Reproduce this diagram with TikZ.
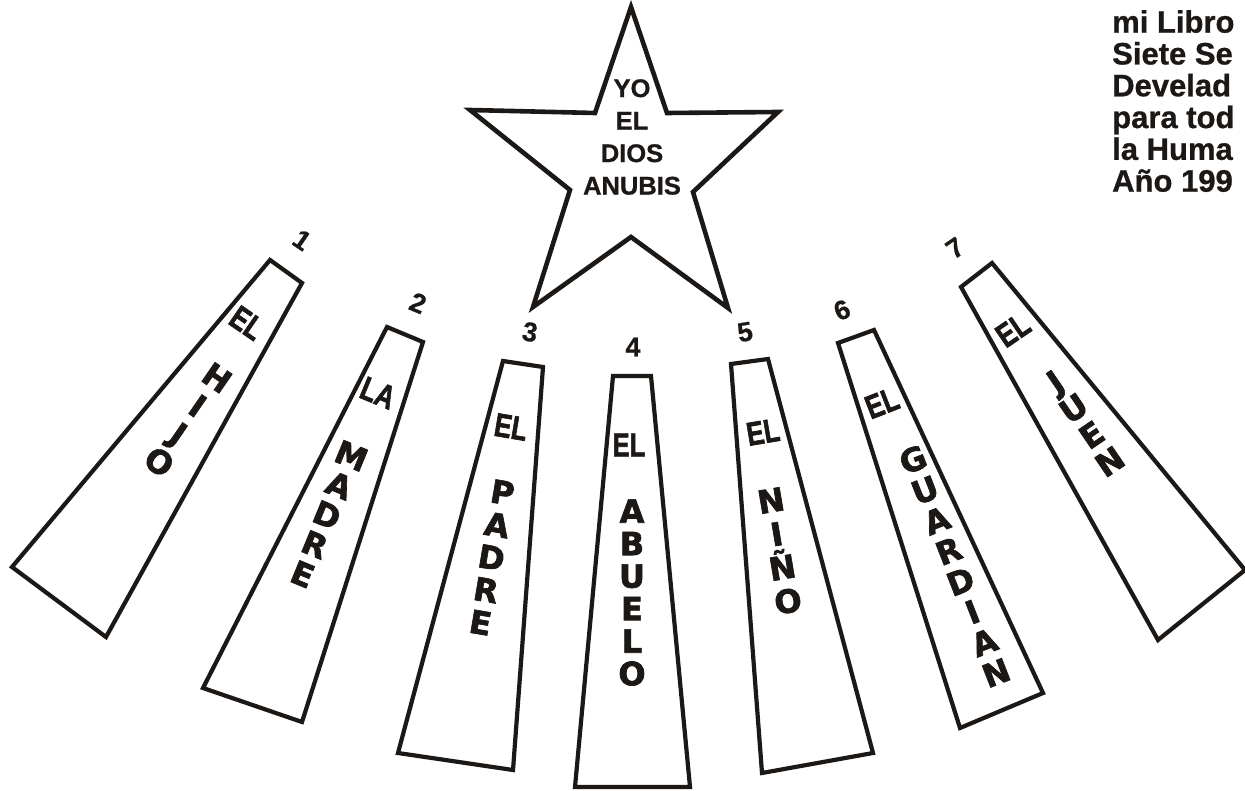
\documentclass[tikz,border=0pt]{standalone}
\usepackage{fontspec}
\setmainfont{Liberation Sans}[BoldFeatures={FakeBold=0.8}]
\newfontfamily\heavyfont{DejaVu Sans}[BoldFeatures={FakeBold=2}]
\newfontfamily\elfont{Liberation Sans}[BoldFeatures={FakeBold=2}]
\definecolor{ink}{RGB}{28,24,22}
\begin{document}
\begin{tikzpicture}[x=1pt,y=-1pt,
  box/.style={draw=ink, line width=4.2pt, line join=miter, fill=white},
  elabel/.style={text=ink, font=\elfont\bfseries\fontsize{33}{33}\selectfont, inner sep=0pt},
  word/.style={text=ink, font=\heavyfont\bfseries\fontsize{32}{#1}\selectfont, align=center, inner sep=0pt},
  word/.default=33,
  num/.style={text=ink, font=\bfseries\fontsize{27}{27}\selectfont, inner sep=0pt},
  startext/.style={text=ink, font=\bfseries\fontsize{25.5}{32.5}\selectfont, align=center, inner sep=0pt},
  book/.style={text=ink, font=\bfseries\fontsize{31}{31.8}\selectfont, align=left, inner sep=0pt}
]
\useasboundingbox (0,0) rectangle (1245,791);

% star
\coordinate (s1) at (631,7);
\coordinate (s2) at (667,113);
\coordinate (s3) at (778,112);
\coordinate (s4) at (693,192);
\coordinate (s5) at (728,308);
\coordinate (s6) at (631,237);
\coordinate (s7) at (533,307);
\coordinate (s8) at (570,190);
\coordinate (s9) at (470,110);
\coordinate (s10) at (595,113);
\draw[box, line width=4.6pt] (s1) -- (s2) -- (s3) -- (s4) -- (s5) -- (s6) -- (s7) -- (s8) -- (s9) -- (s10) -- cycle;
\node[startext] (dios) at (632,137) {YO\\EL\\DIOS\\ANUBIS};

% book text (cut at right edge)
\node[book, anchor=north west] (libro) at (1112,10) {mi Libro\\Siete Se\\Develad\\para tod\\la Huma\\Año 199};

% 1 HIJO
\coordinate (a1) at (270,260); \coordinate (b1) at (302,283);
\coordinate (c1) at (106,637); \coordinate (d1) at (12,567);
\draw[box] (a1) -- (b1) -- (c1) -- (d1) -- cycle;
\node[num, rotate=-34.5] (n1) at (302,240) {1};
\node[elabel, rotate=-34.5] (el1) at (247,323) {\scalebox{0.78}[1]{EL}};
\node[word=34, rotate=-34.5] (w1) at (188,420) {H\\I\\J\\O};

% 2 MADRE
\coordinate (a2) at (387,327); \coordinate (b2) at (423,342);
\coordinate (c2) at (302,722); \coordinate (d2) at (203,688);
\draw[box] (a2) -- (b2) -- (c2) -- (d2) -- cycle;
\node[num, rotate=-22.4] (n2) at (418,303) {2};
\node[elabel, rotate=-22.4] (el2) at (378,393) {\scalebox{0.78}[1]{LA}};
\node[word=32, rotate=-22.4] (w2) at (327,515) {M\\A\\D\\R\\E};

% 3 PADRE
\coordinate (a3) at (503,361); \coordinate (b3) at (543,367);
\coordinate (c3) at (513,770); \coordinate (d3) at (398,753);
\draw[box] (a3) -- (b3) -- (c3) -- (d3) -- cycle;
\node[num, rotate=-9.6] (n3) at (530,332) {3};
\node[elabel, rotate=-9.6] (el3) at (511,427) {\scalebox{0.78}[1]{EL}};
\node[word=33, rotate=-9.6] (w3) at (491.5,557.5) {P\\A\\D\\R\\E};

% 4 ABUELO
\coordinate (a4) at (613,376); \coordinate (b4) at (651,376);
\coordinate (c4) at (690,787); \coordinate (d4) at (575,787);
\draw[box] (a4) -- (b4) -- (c4) -- (d4) -- cycle;
\node[num] (n4) at (633,347) {4};
\node[elabel] (el4) at (629,445) {\scalebox{0.78}[1]{EL}};
\node[word=32.5] (w4) at (632,592.5) {A\\B\\U\\E\\L\\O};

% 5 NINO
\coordinate (a5) at (731,364); \coordinate (b5) at (768,359);
\coordinate (c5) at (873,753); \coordinate (d5) at (762,773);
\draw[box] (a5) -- (b5) -- (c5) -- (d5) -- cycle;
\node[num, rotate=9.6] (n5) at (745,332) {5};
\node[elabel, rotate=9.6] (el5) at (763,432) {\scalebox{0.78}[1]{EL}};
\node[word=34, rotate=9.6] (w5) at (779.5,551) {N\\I\\Ñ\\O};

% 6 GUARDIAN
\coordinate (a6) at (838,343); \coordinate (b6) at (874,330);
\coordinate (c6) at (1043,693); \coordinate (d6) at (960,728);
\draw[box] (a6) -- (b6) -- (c6) -- (d6) -- cycle;
\node[num, rotate=21.3] (n6) at (842,310) {6};
\node[elabel, rotate=21.3] (el6) at (882,403) {\scalebox{0.78}[1]{EL}};
\node[word=32.7, rotate=21.3] (w6) at (954.5,566) {G\\U\\A\\R\\D\\I\\A\\N};

% 7 JUEN
\coordinate (a7) at (961,287); \coordinate (b7) at (992,263);
\coordinate (c7) at (1245,570); \coordinate (d7) at (1158,640);
\draw[box] (a7) -- (b7) -- (c7) -- (d7) -- cycle;
\node[num, rotate=34.3] (n7) at (955,248) {7};
\node[elabel, rotate=34.3] (el7) at (1013,330) {\scalebox{0.78}[1]{EL}};
\node[word=32.3, rotate=34.3] (w7) at (1082.5,421.5) {J\\U\\E\\N};
\end{tikzpicture}
\end{document}
